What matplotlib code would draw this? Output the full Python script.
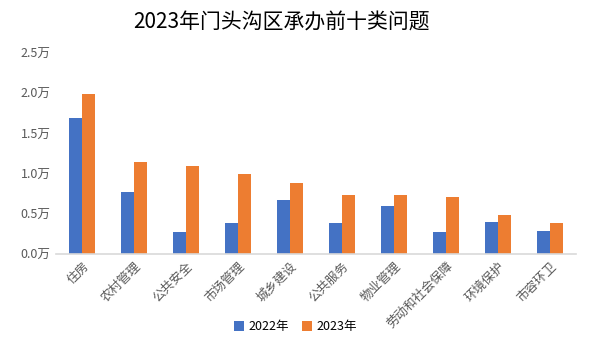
import matplotlib
matplotlib.use("Agg")
import matplotlib.pyplot as plt
import numpy as np

plt.rcParams['font.family'] = ['Noto Sans CJK SC', 'DejaVu Sans']

categories = ["住房", "农村管理", "公共安全", "市场管理", "城乡建设",
              "公共服务", "物业管理", "劳动和社会保障", "环境保护", "市容环卫"]
v2022 = [1.69, 0.77, 0.27, 0.39, 0.67, 0.39, 0.60, 0.27, 0.40, 0.29]
v2023 = [1.99, 1.15, 1.09, 1.00, 0.88, 0.74, 0.74, 0.71, 0.49, 0.39]
yticks = [0.0, 0.5, 1.0, 1.5, 2.0, 2.5]

fig = plt.figure(figsize=(5.91, 3.42), dpi=100)
ax = fig.add_axes([0.0948, 0.2573, 0.88, 0.5877])

x = np.arange(len(categories))
w = 0.25
ax.bar(x - w/2, v2022, width=w, color="#4472C4", label="2022年")
ax.bar(x + w/2, v2023, width=w, color="#ED7D31", label="2023年")

ax.set_xlim(-0.5, len(categories) - 0.5)
ax.set_ylim(0, 2.5)
ax.set_yticks(yticks)
ax.set_yticklabels([f"{t:.1f}万" for t in yticks], color="#595959", fontsize=9)
ax.set_xticks(x)
ax.set_xticklabels(categories, rotation=45, ha="right", rotation_mode="anchor",
                   color="#595959", fontsize=9)
ax.tick_params(axis="both", length=0, pad=4)
for s in ["top", "right", "left"]:
    ax.spines[s].set_visible(False)
ax.spines["bottom"].set_color("#D9D9D9")
ax.spines["bottom"].set_linewidth(1.2)

fig.text(0.477, 0.933, "2023年门头沟区承办前十类问题", ha="center", va="center",
         fontsize=15, color="black")

fig.legend(loc="center", bbox_to_anchor=(0.5, 0.045), ncol=2, frameon=False,
           fontsize=9, handlelength=0.8, handleheight=0.8, columnspacing=1.0,
           handletextpad=0.4)

fig.savefig("out.png", dpi=100)
